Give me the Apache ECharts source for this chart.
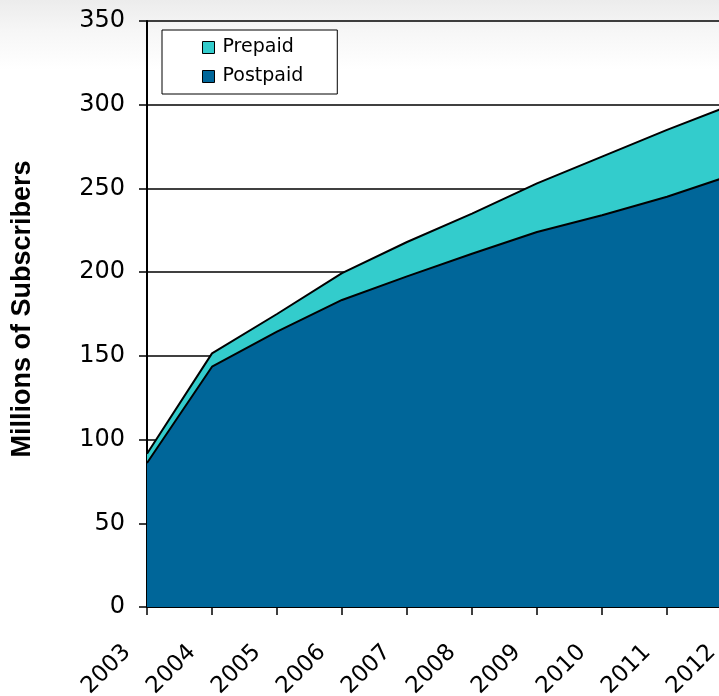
<!DOCTYPE html>
<html>
<head>
<meta charset="utf-8">
<script src="https://cdn.jsdelivr.net/npm/echarts@6/dist/echarts.min.js"></script>
<style>
  html, body { margin: 0; padding: 0; overflow: hidden; }
  body { width: 719px; height: 696px; background: linear-gradient(#ececec 0px, #f6f6f6 30px, #ffffff 70px); }
  #chart { width: 760px; height: 696px; }
</style>
</head>
<body>
<div id="chart"></div>
<script>
const years = ['2003', '2004', '2005', '2006', '2007', '2008', '2009', '2010', '2011', '2012'];
const postpaid = [86, 143.5, 164.5, 183.4, 197.5, 211, 224, 234, 245, 258];
const prepaid = [5.5, 8, 10.5, 16, 20.5, 24, 29, 35, 40, 42];
const yTicks = [0, 50, 100, 150, 200, 250, 300, 350];

const chart = echarts.init(document.getElementById('chart'));

const option = {
  animation: false,
  backgroundColor: 'transparent',
  grid: { left: 147, right: 28, top: 21, bottom: 89, containLabel: false, outerBoundsMode: 'none' },
  legend: {
    data: ['Prepaid', 'Postpaid'],
    orient: 'vertical',
    left: 162,
    top: 30,
    padding: [8, 34, 8, 40],
    itemGap: 10,
    itemWidth: 12,
    itemHeight: 12,
    icon: 'rect',
    backgroundColor: '#fff',
    borderColor: '#000',
    borderWidth: 1,
    itemStyle: { borderColor: '#000', borderWidth: 1 },
    textStyle: { fontFamily: 'DejaVu Sans', fontSize: 19, color: '#000', padding: [0, 0, 0, 3] }
  },
  xAxis: {
    type: 'category',
    data: years,
    boundaryGap: false,
    axisLine: { lineStyle: { color: '#000', width: 2 } },
    axisTick: { alignWithLabel: true, length: 8, lineStyle: { color: '#000', width: 1.5 } },
    axisLabel: {
      rotate: 45,
      margin: 22,
      padding: [0, 28, 0, 0],
      fontFamily: 'DejaVu Sans',
      fontSize: 23,
      color: '#000',
      interval: 0
    }
  },
  yAxis: {
    type: 'value',
    min: yTicks[0],
    max: yTicks[yTicks.length - 1],
    interval: 50,
    name: 'Millions of Subscribers',
    nameLocation: 'middle',
    nameGap: 111,
    nameTextStyle: { fontFamily: 'Liberation Sans', fontWeight: 'bold', fontSize: 27, color: '#000', padding: [0, 0, 0, 10] },
    axisLine: { show: true, lineStyle: { color: '#000', width: 2 } },
    axisTick: { show: true, length: 8, lineStyle: { color: '#000', width: 1.5 } },
    axisLabel: { margin: 22, fontFamily: 'DejaVu Sans', fontSize: 24, color: '#000' },
    splitLine: { lineStyle: { color: '#000', width: 1.5 } }
  },
  series: [
    {
      name: 'Postpaid',
      type: 'line',
      stack: 'total',
      data: postpaid,
      symbol: 'none',
      z: 3,
      itemStyle: { color: '#006699' },
      lineStyle: { color: '#000', width: 2 },
      areaStyle: { color: '#006699', opacity: 1 }
    },
    {
      name: 'Prepaid',
      type: 'line',
      stack: 'total',
      data: prepaid,
      symbol: 'none',
      z: 2,
      itemStyle: { color: '#33CCCC' },
      lineStyle: { color: '#000', width: 2 },
      areaStyle: { color: '#33CCCC', opacity: 1 }
    }
  ]
};

chart.setOption(option);
</script>
</body>
</html>
